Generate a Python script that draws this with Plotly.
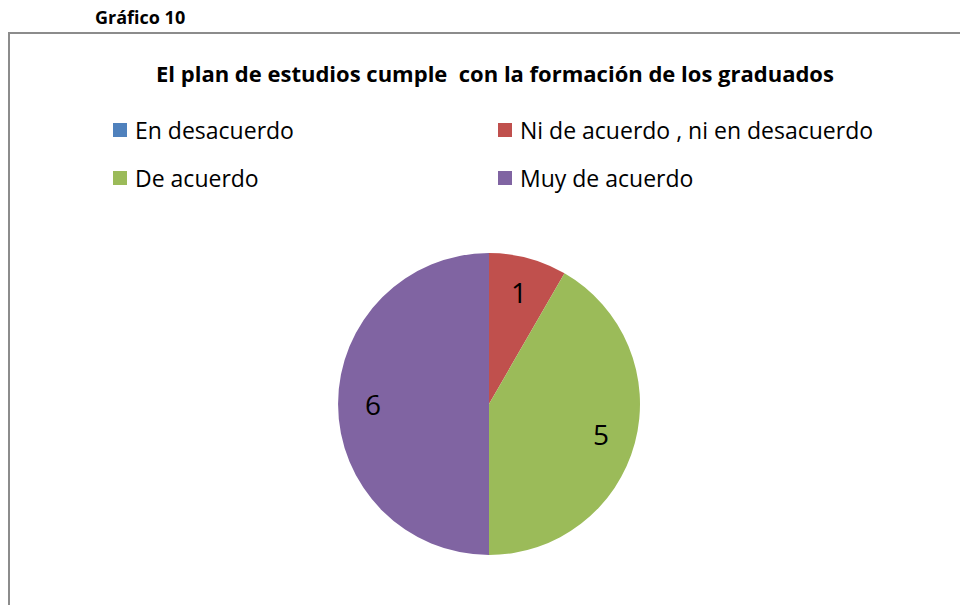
import math
import plotly.graph_objects as go

labels = ["En desacuerdo", "Ni de acuerdo , ni en desacuerdo", "De acuerdo", "Muy de acuerdo"]
values = [0, 1, 5, 6]
colors = ["#4F81BD", "#C0504D", "#9BBB59", "#8064A2"]
title = "El plan de estudios cumple  con la formación de los graduados"
caption = "Gráfico 10"

W, H = 960, 605
FONT = "Open Sans, Calibri, sans-serif"

cx, cy, r = 489, 404, 151

fig = go.Figure(go.Pie(
    labels=labels, values=values, sort=False, direction="clockwise", rotation=0,
    marker=dict(colors=colors, line=dict(width=0)),
    textinfo="none",
    domain=dict(x=[(cx - r) / W, (cx + r) / W], y=[1 - (cy + r) / H, 1 - (cy - r) / H]),
    showlegend=False, hoverinfo="label+value",
))

shapes = [dict(type="rect", xref="paper", yref="paper",
               x0=9 / W, x1=1.05, y0=-0.05, y1=1 - 33 / H,
               line=dict(color="#8c8c8c", width=2), fillcolor="rgba(0,0,0,0)")]
annotations = [
    dict(text="<b>" + caption + "</b>", x=93 / W, y=1 - 17 / H, xref="paper", yref="paper",
         xanchor="left", yanchor="middle", showarrow=False, font=dict(size=18, family=FONT, color="black")),
    dict(text="<b>" + title + "</b>", x=495 / W, y=1 - 73 / H, xref="paper", yref="paper",
         xanchor="center", yanchor="middle", showarrow=False, font=dict(size=22, family=FONT, color="black")),
]
col_x = [113, 498]
row_y = [130, 178]
for i, (lab, col) in enumerate(zip(labels, colors)):
    x0 = col_x[i % 2]
    yc = row_y[i // 2]
    shapes.append(dict(type="rect", xref="paper", yref="paper",
                       x0=x0 / W, x1=(x0 + 14) / W, y0=1 - (yc + 7) / H, y1=1 - (yc - 7) / H,
                       fillcolor=col, line=dict(width=0)))
    annotations.append(dict(text=lab, x=(x0 + 20) / W, y=1 - yc / H, xref="paper", yref="paper",
                            xanchor="left", yanchor="middle", showarrow=False,
                            font=dict(size=23, family=FONT, color="black")))

# data labels at slice mid-angles
total = sum(values)
cum = 0
for v in values:
    if v > 0:
        mid = (cum + v / 2) / total * 2 * math.pi
        lx = cx + 0.77 * r * math.sin(mid)
        ly = cy - 0.77 * r * math.cos(mid)
        annotations.append(dict(text=str(v), x=lx / W, y=1 - ly / H, xref="paper", yref="paper",
                                xanchor="center", yanchor="middle", showarrow=False,
                                font=dict(size=28, family=FONT, color="black")))
    cum += v

fig.update_layout(width=W, height=H, margin=dict(l=0, r=0, t=0, b=0),
                  paper_bgcolor="white", plot_bgcolor="white",
                  shapes=shapes, annotations=annotations)
fig.write_html("out.html", config={"displayModeBar": False})

with open("out.html", encoding="utf-8") as f:
    html = f.read()
html = html.replace("<body>", '<body style="margin:0;overflow:hidden">', 1)
with open("out.html", "w", encoding="utf-8") as f:
    f.write(html)
